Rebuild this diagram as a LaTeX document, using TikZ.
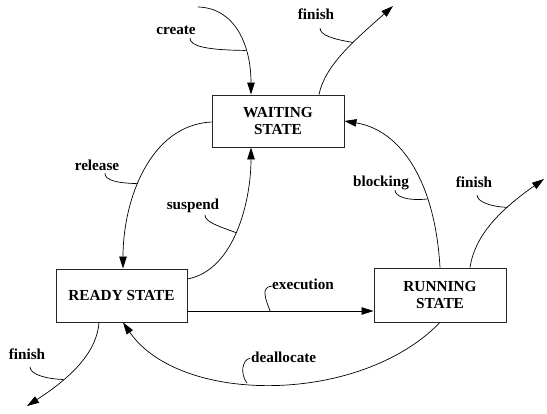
\documentclass[tikz,border=0pt]{standalone}
\usepackage{fontspec}
\setmainfont{Liberation Serif}
\usetikzlibrary{arrows.meta}
\begin{document}
\begin{tikzpicture}[x=1pt,y=-1pt,
  statebox/.style={draw=black!85,line width=0.9pt,minimum width=132pt,minimum height=52pt,inner sep=0pt,align=center,font=\fontsize{15.3}{17.7}\selectfont\bfseries},
  lab/.style={inner sep=0pt,font=\fontsize{15.2}{17}\selectfont\bfseries},
  flow/.style={line width=0.7pt,-{Triangle[length=12pt,width=7.5pt]}},
  tether/.style={line width=0.7pt}]
\useasboundingbox (0,0) rectangle (547,414);
% states
\node[statebox] (wait) at (278,121) {WAITING\\STATE};
\node[statebox,minimum width=131pt,minimum height=53pt] (ready) at (121.5,295.5) {READY STATE};
\node[statebox,minimum height=54pt] (run) at (440,295) {RUNNING\\STATE};
% free ends
\coordinate (createsrc) at (198,7);
\coordinate (fintop) at (393,6);
\coordinate (finright) at (544,179);
\coordinate (finbot) at (27,406);
% labels
\node[lab,anchor=base] (lcreate) at (176,35) {create};
\node[lab,anchor=base] (lfintop) at (316,19.5) {finish};
\node[lab,anchor=base] (lblock) at (381,186.7) {blocking};
\node[lab,anchor=base] (lfinright) at (474,187.3) {finish};
\node[lab,anchor=base] (lfinbot) at (27,359.3) {finish};
\node[lab,anchor=base west] (lexec) at (272,290) {execution};
\node[lab,anchor=base west] (ldeal) at (251,362.7) {deallocate};
\node[lab,anchor=base] (lrel) at (97,170.7) {release};
\node[lab,anchor=base] (lsusp) at (193,210) {suspend};
% edges
\draw[flow] (createsrc) .. controls (235,8) and (251,45) .. ([xshift=-27pt]wait.north) coordinate[pos=0.67] (ecreate);
\draw[flow] ([xshift=41pt]wait.north) .. controls (325,65) and (355,40) .. (fintop) coordinate[pos=0.61] (efintop);
\draw[flow] ([yshift=-1pt]wait.west) .. controls (150,125) and (123,200) .. ([xshift=1.5pt]ready.north) coordinate[pos=0.575] (erel);
\draw[flow] ([yshift=16.5pt]ready.east) .. controls (235,270) and (251,200) .. ([xshift=-27pt]wait.south) coordinate[pos=0.48] (esusp);
\draw[flow] ([yshift=-15.5pt]ready.east) -- ([yshift=-15.5pt]ready.east -| run.west) coordinate[pos=0.444] (eexec);
\draw[flow] (run.south) .. controls (360,405) and (180,405) .. ([xshift=1.5pt]ready.south) coordinate[pos=0.57] (edeal);
\draw[flow] (run.north) .. controls (435,180) and (400,130) .. (wait.east) coordinate[pos=0.3] (eblock);
\draw[flow] ([xshift=30pt]run.north) .. controls (475,235) and (500,210) .. (finright) coordinate[pos=0.68] (efinright);
\draw[flow] ([xshift=-22.5pt]ready.south) .. controls (97,350) and (75,375) .. (finbot) coordinate[pos=0.7] (efinbot);
% tethers
\draw[tether] ([xshift=14pt,yshift=-3pt]lcreate.base) .. controls (190,46) and (205,50) .. (ecreate);
\draw[tether] ([xshift=4pt,yshift=-8.5pt]lfintop.base) .. controls (320,35) and (332,39) .. (efintop);
\draw[tether] ([xshift=8pt,yshift=-2.5pt]lrel.base) .. controls (105,180) and (115,183) .. (erel);
\draw[tether] ([xshift=12pt,yshift=-5pt]lsusp.base) .. controls (205,222) and (218,226) .. (esusp);
\draw[tether] ([xshift=14pt,yshift=-3.3pt]lblock.base) .. controls (395,197) and (408,201) .. (eblock);
\draw[tether] ([xshift=3pt,yshift=-7.7pt]lfinright.base) .. controls (477,202) and (492,207) .. (efinright);
\draw[tether] ([xshift=3pt,yshift=-7.5pt]lfinbot.base) .. controls (30,375) and (48,379) .. (efinbot);
\draw[tether] (eexec) .. controls (266,300) and (260,287) .. ([yshift=4pt]lexec.base west);
\draw[tether] ([xshift=-1pt,yshift=4.5pt]ldeal.base west) .. controls (242,360) and (240,374) .. (edeal);
\end{tikzpicture}
\end{document}
